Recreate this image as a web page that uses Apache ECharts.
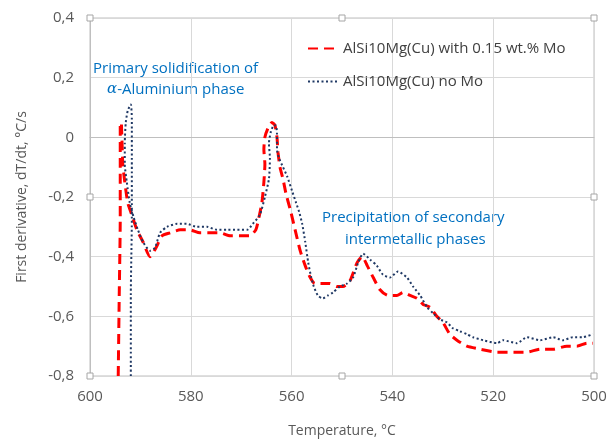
<!DOCTYPE html>
<html>
<head>
<meta charset="utf-8">
<script src="https://cdn.jsdelivr.net/npm/echarts@6/dist/echarts.min.js"></script>
<style>
html,body{margin:0;padding:0;background:#fff;}
#c{width:610px;height:443px;}
</style>
</head>
<body>
<div id="c"></div>
<script>
// Temperature (°C) and first derivative (°C/s), in recorded order
var moTemp = [594.4,594.2,594.0,594.0,594.0,593.8,593.7,593.6,593.5,593.1,592.5,591.7,590.7,589.5,588.1,586.9,585.7,584.1,582.1,580.2,578.2,576.2,574.2,572.2,570.2,568.3,567.1,566.5,565.9,565.5,565.3,565.5,565.3,564.7,563.9,563.3,562.9,562.7,562.3,561.7,561.1,560.3,559.3,558.3,557.3,556.3,555.4,554.0,552.4,551.0,549.8,548.4,547.0,546.0,545.0,543.8,542.5,540.9,539.1,537.9,536.5,535.1,533.9,532.5,531.2,530.0,528.6,527.2,525.2,522.6,519.2,516.7,513.3,510.7,508.1,505.4,503.4,501.4,500.2];
var moRate = [-0.80,-0.53,-0.27,-0.07,0.04,0.05,0.01,-0.04,-0.09,-0.15,-0.22,-0.26,-0.31,-0.35,-0.40,-0.37,-0.33,-0.32,-0.31,-0.31,-0.32,-0.32,-0.32,-0.33,-0.33,-0.33,-0.31,-0.27,-0.22,-0.15,-0.09,-0.04,0.00,0.03,0.05,0.04,0.00,-0.05,-0.10,-0.14,-0.19,-0.24,-0.31,-0.38,-0.43,-0.47,-0.49,-0.49,-0.49,-0.50,-0.50,-0.48,-0.42,-0.40,-0.43,-0.47,-0.51,-0.53,-0.53,-0.52,-0.53,-0.54,-0.56,-0.57,-0.60,-0.62,-0.66,-0.68,-0.70,-0.71,-0.72,-0.72,-0.72,-0.71,-0.71,-0.70,-0.70,-0.69,-0.69];
var noMoTemp = [591.9,591.9,591.7,591.7,591.7,591.9,592.5,592.9,593.1,593.1,592.7,592.1,591.3,590.5,589.5,588.1,587.1,586.1,584.7,582.7,580.8,578.8,576.8,574.8,572.8,570.8,568.8,567.7,566.3,565.3,564.5,564.3,564.5,564.1,563.5,563.1,562.9,562.9,562.5,561.7,560.9,559.9,559.1,558.5,557.9,557.3,556.7,556.1,555.6,554.8,553.8,552.8,551.8,550.4,549.0,547.8,546.8,545.8,544.4,543.1,541.9,540.5,538.9,537.1,535.9,534.5,533.1,531.9,530.6,529.2,528.0,526.6,525.2,524.0,522.0,519.2,518.1,515.3,513.3,510.7,508.1,506.2,504.2,502.2,500.2];
var noMoRate = [-0.80,-0.53,-0.27,-0.07,0.06,0.11,0.09,0.05,-0.02,-0.09,-0.15,-0.22,-0.27,-0.31,-0.35,-0.38,-0.37,-0.32,-0.30,-0.29,-0.29,-0.30,-0.30,-0.31,-0.31,-0.31,-0.31,-0.29,-0.26,-0.20,-0.14,-0.07,-0.02,0.02,0.04,0.04,0.01,-0.04,-0.07,-0.10,-0.13,-0.18,-0.22,-0.25,-0.29,-0.35,-0.42,-0.47,-0.50,-0.53,-0.54,-0.53,-0.52,-0.50,-0.49,-0.47,-0.42,-0.39,-0.41,-0.43,-0.46,-0.47,-0.45,-0.47,-0.50,-0.53,-0.57,-0.59,-0.61,-0.62,-0.64,-0.65,-0.66,-0.67,-0.68,-0.69,-0.68,-0.69,-0.67,-0.68,-0.67,-0.68,-0.67,-0.67,-0.66];
var seriesNames = ['AlSi10Mg(Cu) with 0.15 wt.% Mo', 'AlSi10Mg(Cu) no Mo'];
var xTicks = {min: 500, max: 600, step: 20};
var yTicks = {min: -0.8, max: 0.4, step: 0.2};

function pairs(xs, ys) { return xs.map(function (x, i) { return [x, ys[i]]; }); }

var FONT = '"Open Sans", "Noto Sans", sans-serif';
var texts = [
  {id: 't1', type: 'text', left: 93, top: 61, style: {text: 'Primary solidification of', fill: '#0070c0', font: '15px ' + FONT}},
  {id: 't2', type: 'text', left: 107, top: 82, style: {
    text: '{a|α}-Aluminium phase', fill: '#0070c0', font: '15px ' + FONT,
    rich: {a: {fontFamily: '"DejaVu Serif", serif', fontStyle: 'italic', fontSize: 15, fill: '#0070c0'}}}},
  {id: 't3', type: 'text', left: 322, top: 210, style: {text: 'Precipitation of secondary', fill: '#0070c0', font: '15px ' + FONT}},
  {id: 't4', type: 'text', left: 345, top: 232, style: {text: 'intermetallic phases', fill: '#0070c0', font: '15px ' + FONT}}
];
var chart = echarts.init(document.getElementById('c'), null, {renderer: 'canvas'});
chart.setOption({
  animation: false,
  backgroundColor: '#ffffff',
  grid: {left: 90, right: 16, top: 18, bottom: 62, show: true, borderColor: '#bfbfbf', borderWidth: 1},
  xAxis: {
    type: 'value', inverse: true, min: xTicks.min, max: xTicks.max, interval: xTicks.step,
    name: 'Temperature, °C', nameLocation: 'middle', nameGap: 48,
    nameTextStyle: {color: '#595959', fontSize: 14, fontFamily: FONT},
    axisLine: {show: true, lineStyle: {color: '#bfbfbf'}},
    axisTick: {show: false},
    axisLabel: {color: '#595959', fontSize: 15, fontFamily: FONT, margin: 13},
    splitLine: {show: true, lineStyle: {color: '#d9d9d9'}}
  },
  yAxis: {
    type: 'value', min: yTicks.min, max: yTicks.max, interval: yTicks.step,
    name: 'First derivative, dT/dt, °C/s', nameLocation: 'middle', nameGap: 61,
    nameTextStyle: {color: '#595959', fontSize: 14, fontFamily: FONT},
    axisLine: {show: true, lineStyle: {color: '#bfbfbf'}},
    axisTick: {show: false},
    axisLabel: {color: '#595959', fontSize: 15, fontFamily: FONT, margin: 16,
      formatter: function (v) { var r = Math.round(v * 10) / 10; return r === 0 ? '0' : r.toFixed(1).replace('.', ','); }},
    splitLine: {show: true, lineStyle: {color: '#d9d9d9'}}
  },
  legend: {
    orient: 'vertical', left: 302, top: 36, itemWidth: 30, itemHeight: 14, itemGap: 18,
    itemStyle: {opacity: 0},
    textStyle: {color: '#404040', fontSize: 15, fontFamily: FONT},
    data: seriesNames
  },
  series: [
    {name: seriesNames[0], type: 'line', data: pairs(moTemp, moRate), showSymbol: false, symbol: 'none',
     smooth: 0.2, lineStyle: {color: '#ff0000', width: 3, type: [10, 6]}, itemStyle: {color: '#ff0000'}, z: 2},
    {name: seriesNames[1], type: 'line', data: pairs(noMoTemp, noMoRate), showSymbol: false, symbol: 'none',
     smooth: 0.2, lineStyle: {color: '#1f3864', width: 2, type: [2, 2.5]}, itemStyle: {color: '#1f3864'}, z: 3}
  ],
  graphic: texts
});

// plot-area selection handles at corners and edge midpoints
var hx = [xTicks.max, (xTicks.min + xTicks.max) / 2, xTicks.min];
var hy = [yTicks.max, (yTicks.min + yTicks.max) / 2, yTicks.min];
var handles = [];
hx.forEach(function (xv, i) {
  hy.forEach(function (yv, j) {
    if (i === 1 && j === 1) return;
    var p = chart.convertToPixel({gridIndex: 0}, [xv, yv]);
    handles.push({id: 'h' + i + j, type: 'rect', shape: {x: p[0] - 3, y: p[1] - 3, width: 6, height: 6},
      style: {fill: '#ffffff', stroke: '#a6a6a6', lineWidth: 1}, z: 100});
  });
});
chart.setOption({graphic: texts.concat(handles)});
</script>
</body>
</html>
